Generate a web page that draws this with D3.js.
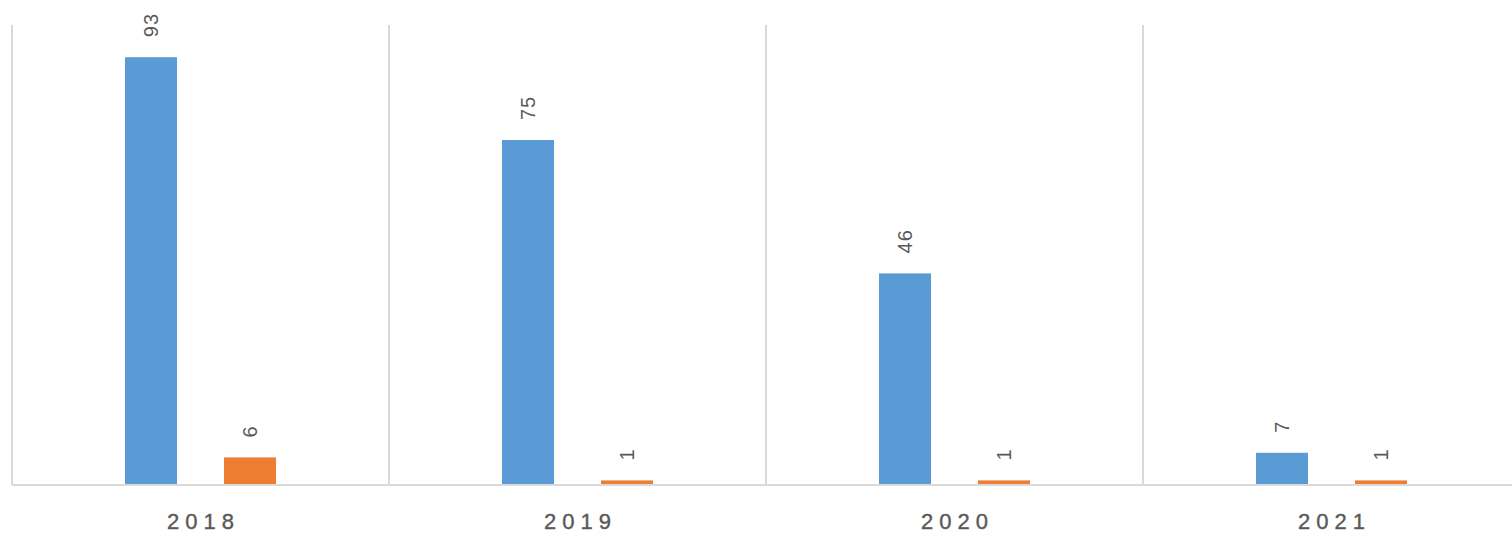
<!DOCTYPE html>
<html>
<head>
<meta charset="utf-8">
<script src="https://cdn.jsdelivr.net/npm/d3@7"></script>
<style>
  body { margin: 0; background: #fff; overflow: hidden; }
</style>
</head>
<body>
<div id="chart"></div>
<script>
const years = ["2018", "2019", "2020", "2021"];
const seriesNames = ["A", "B"];
const seriesA = [93, 75, 46, 7];
const seriesB = [6, 1, 1, 1];
const colors = ["#5B9BD5", "#ED7D31"];

const width = 1512, height = 540;
const plotLeft = 12, plotRight = 1520, plotTop = 25, plotBottom = 485;

const svg = d3.select("#chart").append("svg")
    .attr("width", width)
    .attr("height", height)
    .attr("font-family", "Arial, 'Liberation Sans', sans-serif");

const x = d3.scaleBand()
    .domain(years)
    .range([plotLeft, plotRight])
    .padding(0);

// bars are 52px wide with a 47px gap inside a 377px category
const step = x.step();
const inner = d3.scaleBand()
    .domain(seriesNames)
    .range([0, step])
    .paddingInner(47 / 99)
    .paddingOuter((step / 99 - 2 + 47 / 99) / 2);

const y = d3.scaleLinear()
    .domain([0, 100])
    .range([plotBottom, plotTop]);

// vertical grid lines between categories
svg.append("g")
    .selectAll("line")
    .data(years)
    .join("line")
    .attr("x1", d => x(d))
    .attr("x2", d => x(d))
    .attr("y1", plotTop)
    .attr("y2", plotBottom)
    .attr("stroke", "#d9d9d9")
    .attr("stroke-width", 2);

const rows = years.map((yr, i) => ({ year: yr, values: [seriesA[i], seriesB[i]] }));

const group = svg.append("g")
    .selectAll("g")
    .data(rows)
    .join("g")
    .attr("transform", d => `translate(${x(d.year)},0)`);

group.selectAll("rect")
    .data(d => d.values.map((v, j) => ({ key: seriesNames[j], v, j })))
    .join("rect")
    .attr("x", d => inner(d.key))
    .attr("y", d => y(d.v))
    .attr("width", inner.bandwidth())
    .attr("height", d => y(0) - y(d.v))
    .attr("fill", d => colors[d.j]);

group.selectAll("text")
    .data(d => d.values.map((v, j) => ({ key: seriesNames[j], v, j })))
    .join("text")
    .attr("transform", d => `translate(${inner(d.key) + inner.bandwidth() / 2},${y(d.v) - 20}) rotate(-90)`)
    .attr("dy", "0.35em")
    .attr("text-anchor", "start")
    .attr("font-size", 20)
    .attr("letter-spacing", "1px")
    .attr("fill", "#595959")
    .text(d => d.v);

// baseline
svg.append("line")
    .attr("x1", plotLeft)
    .attr("x2", plotRight)
    .attr("y1", plotBottom)
    .attr("y2", plotBottom)
    .attr("stroke", "#d9d9d9")
    .attr("stroke-width", 2);

// category labels
svg.append("g")
    .selectAll("text")
    .data(years)
    .join("text")
    .attr("x", d => x(d) + x.bandwidth() / 2 + 3)
    .attr("y", 529)
    .attr("text-anchor", "middle")
    .attr("font-size", 22)
    .attr("letter-spacing", "6px")
    .attr("fill", "#595959")
    .attr("stroke", "#595959")
    .attr("stroke-width", 0.4)
    .text(d => d);
</script>
</body>
</html>
